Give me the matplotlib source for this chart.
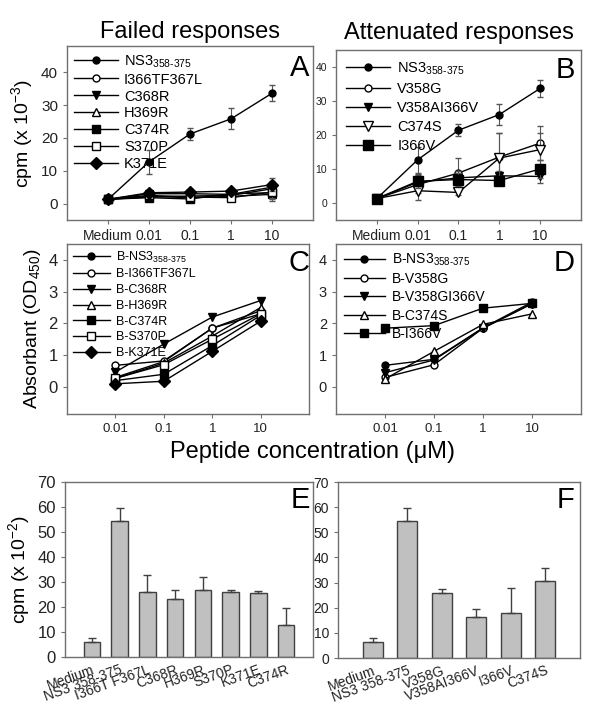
import numpy as np
import matplotlib.pyplot as plt

plt.rcParams["font.family"] = ["Liberation Sans", "DejaVu Sans"]
plt.rcParams["mathtext.fontset"] = "custom"
plt.rcParams["mathtext.rm"] = "Liberation Sans"
plt.rcParams["mathtext.it"] = "Liberation Sans"

# ===================== DATA =====================
# panels A/B: proliferation (cpm x 10^-3), x = Medium, 0.01, 0.1, 1, 10
conc_ab = ["Medium", "0.01", "0.1", "1", "10"]
a_labels = ["NS3", "I366TF367L", "C368R", "H369R", "C374R", "S370P", "K371E"]
a_ns3 = [1.3, 12.7, 21.2, 25.8, 33.6]
a_ns3_err = [0.4, 3.7, 1.8, 3.2, 2.5]
a_i366t = [1.3, 2.0, 2.3, 2.5, 4.5]
a_c368r = [1.3, 3.0, 3.0, 2.8, 5.0]
a_h369r = [1.3, 2.2, 1.8, 2.2, 2.8]
a_c374r = [1.3, 1.8, 1.4, 3.0, 3.3]
a_s370p = [1.3, 2.5, 2.0, 1.8, 3.5]
a_k371e = [1.3, 3.3, 3.5, 3.8, 5.8]
a_small_err = [0.3, 0.6, 0.6, 0.7, 1.9]

b_labels = ["NS3", "V358G", "V358AI366V", "C374S", "I366V"]
b_ns3 = [1.3, 12.7, 21.4, 26.0, 33.7]
b_ns3_err = [0.4, 3.8, 1.7, 3.2, 2.4]
b_v358g = [1.3, 5.4, 8.8, 13.5, 17.6]
b_v358g_err = [0.4, 2.5, 4.5, 7.0, 5.0]
b_v358ai = [1.3, 6.1, 7.4, 8.0, 7.8]
b_v358ai_err = [0.4, 2.0, 2.0, 1.5, 2.0]
b_c374s = [1.3, 3.6, 3.1, 13.2, 15.7]
b_c374s_err = [0.4, 2.7, 0.8, 7.4, 5.0]
b_i366v = [1.3, 6.4, 6.9, 6.6, 10.0]
b_i366v_err = [0.4, 2.0, 1.8, 1.2, 2.6]

# panels C/D: binding (OD450), x = 0.01, 0.1, 1, 10
conc_cd = ["0.01", "0.1", "1", "10"]
c_ns3 = [0.30, 0.80, 1.85, 2.30]
c_i366t = [0.68, 0.82, 1.85, 2.40]
c_c368r = [0.47, 1.35, 2.20, 2.72]
c_h369r = [0.27, 0.75, 1.60, 2.50]
c_c374r = [0.20, 0.40, 1.30, 2.25]
c_s370p = [0.27, 0.70, 1.50, 2.30]
c_k371e = [0.10, 0.18, 1.12, 2.07]

d_ns3 = [0.68, 0.87, 1.86, 2.67]
d_v358g = [0.30, 0.70, 1.85, 2.62]
d_v358gi = [0.45, 0.85, 1.85, 2.62]
d_c374s = [0.25, 1.12, 1.97, 2.30]
d_i366v = [1.85, 1.93, 2.48, 2.63]

# panels E/F: bars (cpm x 10^-2)
e_cats = ["Medium", "NS3 358-375", "I366T F367L", "C368R", "H369R", "S370P", "K371E", "C374R"]
e_vals = [6.0, 54.5, 26.0, 23.3, 27.0, 26.0, 25.5, 13.0]
e_errs = [1.7, 5.0, 6.7, 3.7, 5.0, 1.0, 0.8, 6.6]
f_cats = ["Medium", "NS3 358-375", "V358G", "V358AI366V", "I366V", "C374S"]
f_vals = [6.5, 54.5, 26.0, 16.5, 18.0, 30.5]
f_errs = [1.3, 5.0, 1.5, 3.0, 10.0, 5.5]

# ===================== STYLE =====================
SPINE = "#707070"
ns3_lab = "NS3$_{\\mathregular{358\u2010375}}$"
bns3_lab = "B-NS3$_{\\mathregular{358\u2010375}}$"

def mk(fill, m, ms=6):
    return dict(marker=m, ms=ms, color="black", lw=1,
                mfc="black" if fill else "white", mec="black")

def frame(ax, lab, lx, ly, ysize):
    for s in ax.spines.values():
        s.set_color(SPINE)
        s.set_linewidth(1)
    ax.tick_params(colors=SPINE, labelcolor="#222222", labelsize=ysize, length=3)
    ax.text(lx, ly, lab, transform=ax.transAxes, fontsize=21, ha="center", va="center")

def line_with_err(ax, x, ys, es, style, lab):
    if es is not None:
        ax.errorbar(x, ys, yerr=es, fmt="none", ecolor="#555555", elinewidth=0.8, capsize=2)
    ax.plot(x, ys, label=lab, **style)

fig = plt.figure(figsize=(6, 7.14), dpi=100)

# ===================== A =====================
axA = fig.add_axes([0.1117, 0.6919, 0.41, 0.2437])
x5 = np.arange(len(conc_ab))
line_with_err(axA, x5, a_ns3, a_ns3_err, mk(True, "o", 5), ns3_lab)
series_a = [(a_i366t, False, "o", 5), (a_c368r, True, "v", 6), (a_h369r, False, "^", 6),
            (a_c374r, True, "s", 6), (a_s370p, False, "s", 6), (a_k371e, True, "D", 6)]
for (ys, fill, m, ms), lab in zip(series_a, a_labels[1:]):
    line_with_err(axA, x5, ys, a_small_err, mk(fill, m, ms), lab)
axA.set_xlim(-1, 5)
axA.set_ylim(-5, 48)
axA.set_xticks(x5)
axA.set_xticklabels(conc_ab)
axA.set_yticks([0, 10, 20, 30, 40])
axA.set_ylabel("cpm (x 10$^{\\mathregular{-3}}$)", fontsize=14)
frame(axA, "A", 0.947, 0.874, 11)
axA.tick_params(axis="x", labelsize=10)
axA.legend(loc="upper left", frameon=False, fontsize=10.5, handlelength=3,
           labelspacing=0.2, borderaxespad=0.1, handletextpad=0.4)
axA.set_title("Failed responses", fontsize=17, pad=6)

# ===================== B =====================
axB = fig.add_axes([0.56, 0.6919, 0.4083, 0.2381])
line_with_err(axB, x5, b_ns3, b_ns3_err, mk(True, "o", 5), ns3_lab)
series_b = [(b_v358g, b_v358g_err, False, "o", 5), (b_v358ai, b_v358ai_err, True, "v", 6),
            (b_c374s, b_c374s_err, False, "v", 7), (b_i366v, b_i366v_err, True, "s", 7)]
for (ys, es, fill, m, ms), lab in zip(series_b, b_labels[1:]):
    line_with_err(axB, x5, ys, es, mk(fill, m, ms), lab)
axB.set_xlim(-1, 5)
axB.set_ylim(-5, 45)
axB.set_xticks(x5)
axB.set_xticklabels(conc_ab)
axB.set_yticks([0, 10, 20, 30, 40])
frame(axB, "B", 0.935, 0.88, 7.5)
axB.tick_params(axis="x", labelsize=10)
axB.legend(loc="upper left", frameon=False, fontsize=10.5, handlelength=3,
           labelspacing=0.35, borderaxespad=0.3, handletextpad=0.5)
axB.set_title("Attenuated responses", fontsize=17, pad=8)

# ===================== C =====================
axC = fig.add_axes([0.1117, 0.4202, 0.4033, 0.2381])
x4 = np.arange(len(conc_cd))
series_c = [(c_ns3, True, "o", 5), (c_i366t, False, "o", 5), (c_c368r, True, "v", 6),
            (c_h369r, False, "^", 6), (c_c374r, True, "s", 6), (c_s370p, False, "s", 6),
            (c_k371e, True, "D", 6)]
labels_c = [bns3_lab] + ["B-" + s for s in a_labels[1:]]
for (ys, fill, m, ms), lab in zip(series_c, labels_c):
    axC.plot(x4, ys, label=lab, **mk(fill, m, ms))
axC.set_xlim(-1, 4)
axC.set_ylim(-0.85, 4.5)
axC.set_xticks(x4)
axC.set_xticklabels(conc_cd)
axC.set_yticks([0, 1, 2, 3, 4])
axC.set_ylabel("Absorbant (OD$_{\\mathregular{450}}$)", fontsize=14)
frame(axC, "C", 0.96, 0.89, 12)
axC.tick_params(axis="x", labelsize=9.5)
axC.legend(loc="upper left", frameon=False, fontsize=9, handlelength=3,
           labelspacing=0.3, borderaxespad=0.05, handletextpad=0.5)

# ===================== D =====================
axD = fig.add_axes([0.56, 0.4202, 0.4083, 0.2381])
series_d = [(d_ns3, True, "o", 5), (d_v358g, False, "o", 5), (d_v358gi, True, "v", 6),
            (d_c374s, False, "^", 6), (d_i366v, True, "s", 6)]
labels_d = [bns3_lab, "B-V358G", "B-V358GI366V", "B-C374S", "B-I366V"]
for (ys, fill, m, ms), lab in zip(series_d, labels_d):
    axD.plot(x4, ys, label=lab, **mk(fill, m, ms))
axD.set_xlim(-1, 4)
axD.set_ylim(-0.85, 4.5)
axD.set_xticks(x4)
axD.set_xticklabels(conc_cd)
axD.set_yticks([0, 1, 2, 3, 4])
frame(axD, "D", 0.93, 0.89, 10.5)
axD.tick_params(axis="x", labelsize=9.5)
axD.legend(loc="upper left", frameon=False, fontsize=10, handlelength=3,
           labelspacing=0.3, borderaxespad=0.15, handletextpad=0.5)

fig.text(0.52, 1 - 452 / 714, "Peptide concentration (\u03bcM)", fontsize=17,
         ha="center", va="center")

# ===================== E =====================
axE = fig.add_axes([0.1083, 0.0798, 0.4133, 0.2451])
xe = np.arange(len(e_cats))
axE.bar(xe, e_vals, width=0.6, color="#c0c0c0", edgecolor="#404040", linewidth=1)
axE.errorbar(xe, e_vals, yerr=[np.zeros(len(e_errs)), e_errs], fmt="none",
             ecolor="#404040", elinewidth=1, capsize=3)
axE.set_xlim(-0.97, 7.97)
axE.set_ylim(0, 70)
axE.set_yticks(range(0, 71, 10))
axE.set_xticks(xe)
axE.set_xticklabels(e_cats, rotation=20, ha="right", rotation_mode="anchor")
axE.set_ylabel("cpm (x 10$^{\\mathregular{-2}}$)", fontsize=14)
frame(axE, "E", 0.95, 0.9, 12)
axE.tick_params(axis="x", labelsize=10, length=0, pad=4)

# ===================== F =====================
axF = fig.add_axes([0.5633, 0.0784, 0.4033, 0.2465])
xf = np.arange(len(f_cats))
axF.bar(xf, f_vals, width=0.58, color="#c0c0c0", edgecolor="#404040", linewidth=1)
axF.errorbar(xf, f_vals, yerr=[np.zeros(len(f_errs)), f_errs], fmt="none",
             ecolor="#404040", elinewidth=1, capsize=3)
axF.set_xlim(-1, 6)
axF.set_ylim(0, 70)
axF.set_yticks(range(0, 71, 10))
axF.set_xticks(xf)
axF.set_xticklabels(f_cats, rotation=20, ha="right", rotation_mode="anchor")
frame(axF, "F", 0.94, 0.9, 10)
axF.tick_params(axis="x", labelsize=10, length=0, pad=4)

fig.savefig("out.png", dpi=100)
